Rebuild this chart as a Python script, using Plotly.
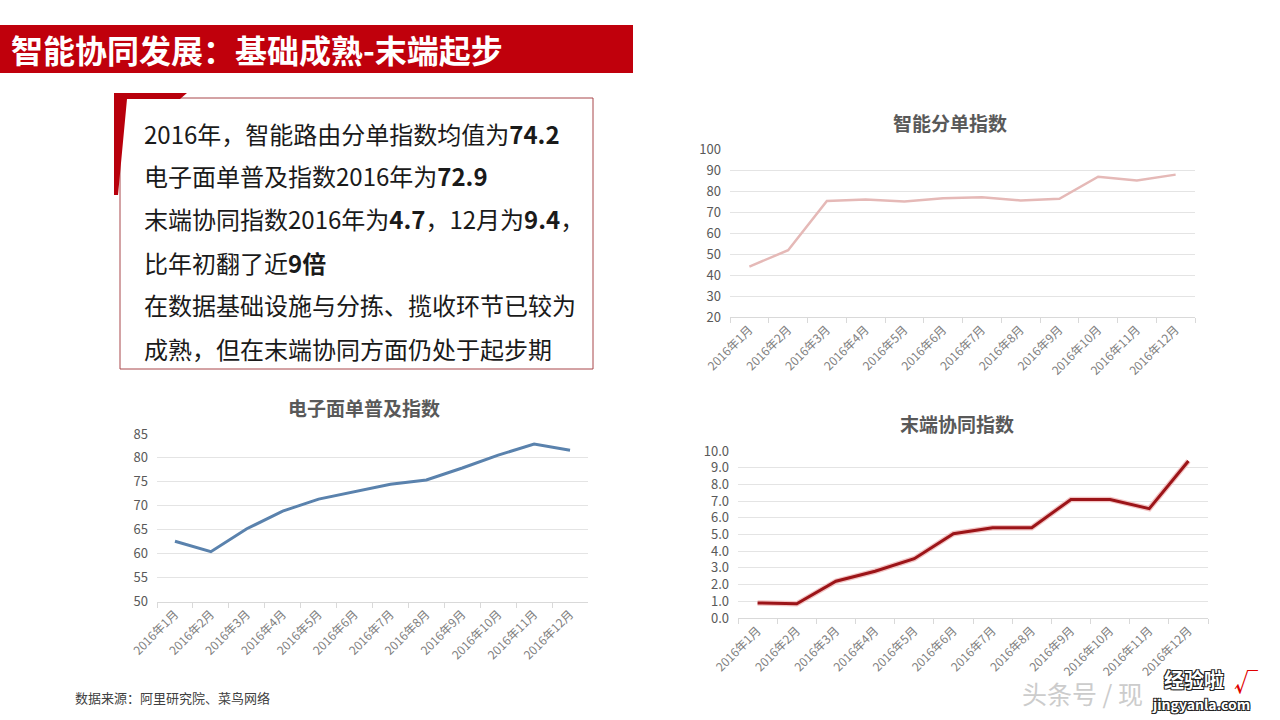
import plotly.graph_objects as go

W, H = 1280, 720

months = ["2016年1月", "2016年2月", "2016年3月", "2016年4月", "2016年5月", "2016年6月",
          "2016年7月", "2016年8月", "2016年9月", "2016年10月", "2016年11月", "2016年12月"]

smart_split = [44.0, 51.8, 75.2, 76.0, 75.0, 76.5, 77.0, 75.5, 76.3, 86.8, 85.0, 87.8]
e_waybill = [62.6, 60.4, 65.2, 68.9, 71.4, 72.9, 74.5, 75.4, 77.9, 80.6, 82.9, 81.6]
last_mile = [0.9, 0.85, 2.2, 2.8, 3.55, 5.05, 5.4, 5.4, 7.1, 7.1, 6.55, 9.4]

title_text = "智能协同发展：基础成熟-末端起步"
chart_titles = ["智能分单指数", "电子面单普及指数", "末端协同指数"]
box_lines = [
    "2016年，智能路由分单指数均值为<b>74.2</b>",
    "电子面单普及指数2016年为<b>72.9</b>",
    "末端协同指数2016年为<b>4.7</b>，12月为<b>9.4</b>，",
    "比年初翻了近<b>9倍</b>",
    "在数据基础设施与分拣、揽收环节已较为",
    "成熟，但在末端协同方面仍处于起步期",
]
source_text = "数据来源：阿里研究院、菜鸟网络"
watermark_text = "头条号 / 现"
logo_text = "经验啦"
logo_url = "jingyanla.com"

FONT = "Noto Sans CJK SC"


def px(x):
    return x / W


def py(y):
    return 1 - y / H


fig = go.Figure()

fig.add_trace(go.Scatter(x=months, y=smart_split, mode="lines", xaxis="x", yaxis="y",
                         line=dict(color="#e5b9b7", width=2.5), showlegend=False))
fig.add_trace(go.Scatter(x=months, y=e_waybill, mode="lines", xaxis="x2", yaxis="y2",
                         line=dict(color="#5a82ad", width=3), showlegend=False))
fig.add_trace(go.Scatter(x=months, y=last_mile, mode="lines", xaxis="x3", yaxis="y3",
                         line=dict(color="#f2c4c4", width=5.5), showlegend=False, hoverinfo="skip"))
fig.add_trace(go.Scatter(x=months, y=last_mile, mode="lines", xaxis="x3", yaxis="y3",
                         line=dict(color="#9c1418", width=3), showlegend=False))

xcommon = dict(type="category", range=[-0.5, 11.5], tickangle=-45, showgrid=False,
               showline=True, linecolor="#d9d9d9", linewidth=1, ticks="outside",
               tickson="boundaries", ticklen=5, tickcolor="#d9d9d9", automargin=False,
               tickfont=dict(family=FONT, size=12, color="#808080"), fixedrange=True)
ycommon = dict(showgrid=True, gridcolor="#e4e4e4", gridwidth=1, zeroline=False,
               showline=False, ticks="", automargin=False, ticklabelstandoff=8,
               tickfont=dict(family=FONT, size=13, color="#595959"),
               fixedrange=True)

layout = dict(
    width=W, height=H, margin=dict(l=0, r=0, t=0, b=0, pad=0), autosize=False,
    paper_bgcolor="white", plot_bgcolor="white",
    xaxis=dict(xcommon, domain=[px(730), px(1195)], anchor="y"),
    yaxis=dict(ycommon, domain=[py(317), py(149)], range=[20, 100], dtick=10, anchor="x"),
    xaxis2=dict(xcommon, domain=[px(157), px(588)], anchor="y2"),
    yaxis2=dict(ycommon, domain=[py(601.5), py(434)], range=[50, 85], dtick=5, anchor="x2"),
    xaxis3=dict(xcommon, domain=[px(738), px(1208)], anchor="y3"),
    yaxis3=dict(ycommon, domain=[py(618), py(451)], range=[0, 10], dtick=1, tickformat=".1f",
                anchor="x3"),
)
fig.update_layout(**layout)

shapes = []
shapes.append(dict(type="rect", xref="paper", yref="paper", x0=0, x1=px(633), y0=py(73), y1=py(25),
                   fillcolor="#c0000c", line=dict(width=0), layer="below"))
shapes.append(dict(type="rect", xref="paper", yref="paper", x0=px(120), x1=px(593), y0=py(369), y1=py(98),
                   fillcolor="rgba(0,0,0,0)", line=dict(color="#a8464a", width=1)))
pts = [(114, 93), (187, 93), (180, 99), (127, 99), (118, 195), (114, 195)]
path = "M " + " L ".join(f"{px(a):.5f},{py(b):.5f}" for a, b in pts) + " Z"
shapes.append(dict(type="path", xref="paper", yref="paper", path=path,
                   fillcolor="#b8000c", line=dict(width=0)))
fig.update_layout(shapes=shapes)

ann = []
ann.append(dict(text=f"<b>{title_text}</b>", x=px(9), y=py(49), xref="paper", yref="paper",
                xanchor="left", yanchor="middle", showarrow=False,
                font=dict(family=FONT, size=32, color="white")))
centers = [133, 175, 218, 262, 304, 348]
for t, cy in zip(box_lines, centers):
    ann.append(dict(text=t, x=px(142), y=py(cy), xref="paper", yref="paper",
                    xanchor="left", yanchor="middle", showarrow=False,
                    font=dict(family=FONT, size=24, color="#1a1a1a")))
for t, (cx, cy) in zip(chart_titles, [(950, 122), (364, 407), (957, 423)]):
    ann.append(dict(text=f"<b>{t}</b>", x=px(cx), y=py(cy), xref="paper", yref="paper",
                    xanchor="center", yanchor="middle", showarrow=False,
                    font=dict(family=FONT, size=19, color="#595959")))
ann.append(dict(text=source_text, x=px(73), y=py(697), xref="paper", yref="paper",
                xanchor="left", yanchor="middle", showarrow=False,
                font=dict(family=FONT, size=13, color="#404040")))
ann.append(dict(text=watermark_text, x=px(1020), y=py(693), xref="paper", yref="paper",
                xanchor="left", yanchor="middle", showarrow=False,
                font=dict(family=FONT, size=25, color="#cccccc")))
outline = "1px 1px 0 #222, -1px -1px 0 #222, 1px -1px 0 #222, -1px 1px 0 #222"
ann.append(dict(text=f"<b>{logo_text}</b>", x=px(1194), y=py(679), xref="paper", yref="paper",
                xanchor="center", yanchor="middle", showarrow=False,
                font=dict(family=FONT, size=20, color="white", shadow=outline)))
ann.append(dict(text="<b>√</b>", x=px(1246), y=py(680), xref="paper", yref="paper",
                xanchor="center", yanchor="middle", showarrow=False,
                font=dict(family=FONT, size=24, color="#e00000")))
ann.append(dict(text=f"<b>{logo_url}</b>", x=px(1201), y=py(704), xref="paper", yref="paper",
                xanchor="center", yanchor="middle", showarrow=False,
                font=dict(family=FONT, size=14, color="white", shadow=outline)))
fig.update_layout(annotations=ann)

fig.write_html("out.html", config={"displayModeBar": False})
